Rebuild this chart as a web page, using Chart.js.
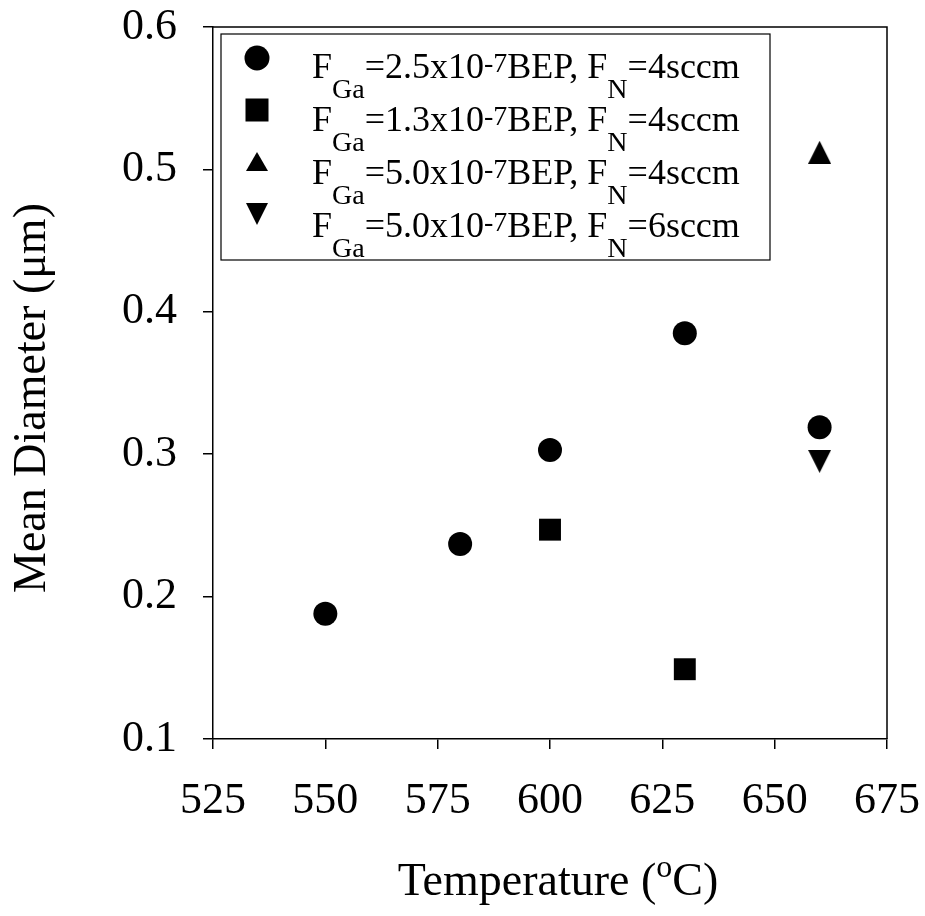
<!DOCTYPE html>
<html><head><meta charset="utf-8">
<script src="https://cdn.jsdelivr.net/npm/chart.js@4"></script>
<style>html,body{margin:0;padding:0;background:#fff}#wrap{width:925px;height:916px}</style>
</head><body><div id="wrap"><canvas id="c" width="925" height="916"></canvas></div>
<script>
// ---- data ----
const xTicks = [525, 550, 575, 600, 625, 650, 675];
const yTicks = [0.1, 0.2, 0.3, 0.4, 0.5, 0.6];
const circleX = [550, 580, 600, 630, 660];
const circleY = [0.188, 0.237, 0.303, 0.385, 0.319];
const squareX = [600, 630];
const squareY = [0.247, 0.149];
const upX = [660];
const upY = [0.512];
const downX = [660];
const downY = [0.295];
const legendGa = ['2.5', '1.3', '5.0', '5.0'];
const legendN = ['4', '4', '4', '6'];
const xTitleParts = ['Temperature (', 'o', 'C)'];
const yTitle = 'Mean Diameter (\u03BCm)';

const FONT = '"Liberation Serif", "Times New Roman", serif';

function triCanvas(up, w, h) {
  const c = document.createElement('canvas');
  c.width = w; c.height = h;
  const g = c.getContext('2d');
  g.fillStyle = '#000';
  g.beginPath();
  if (up) { g.moveTo(w / 2, 0); g.lineTo(w, h); g.lineTo(0, h); }
  else { g.moveTo(0, 0); g.lineTo(w, 0); g.lineTo(w / 2, h); }
  g.closePath(); g.fill();
  return c;
}
const upImg = triCanvas(true, 23, 23);
const downImg = triCanvas(false, 23, 23);

function pts(xs, ys) { return xs.map((x, i) => ({ x: x, y: ys[i] })); }
function lbl(i) { return 'FGa=' + legendGa[i] + 'x10-7BEP, FN=' + legendN[i] + 'sccm'; }

const datasets = [
  { label: lbl(0), data: pts(circleX, circleY), pointStyle: 'circle', pointRadius: 12, backgroundColor: '#000', borderWidth: 0 },
  { label: lbl(1), data: pts(squareX, squareY), pointStyle: 'rect', pointRadius: 15.5, backgroundColor: '#000', borderWidth: 0 },
  { label: lbl(2), data: pts(upX, upY), pointStyle: upImg, pointRadius: 12, backgroundColor: '#000', borderWidth: 0 },
  { label: lbl(3), data: pts(downX, downY), pointStyle: downImg, pointRadius: 12, backgroundColor: '#000', borderWidth: 0 }
];

const framePlugin = {
  id: 'frame',
  afterDraw(chart) {
    const { ctx, chartArea: a } = chart;
    ctx.save();
    ctx.strokeStyle = '#000';
    ctx.lineWidth = 1.5;
    ctx.beginPath();
    ctx.moveTo(a.left, a.top); ctx.lineTo(a.right, a.top); ctx.lineTo(a.right, a.bottom);
    ctx.stroke();

    // axis titles
    ctx.fillStyle = '#000';
    ctx.textBaseline = 'alphabetic';
    const big = '46px ' + FONT, small = '32px ' + FONT;
    ctx.font = big; const w1 = ctx.measureText(xTitleParts[0]).width;
    const w3 = ctx.measureText(xTitleParts[2]).width;
    ctx.font = small; const w2 = ctx.measureText(xTitleParts[1]).width;
    const tot = w1 + w2 + w3;
    let x = (a.left + a.right) / 2 + 8 - tot / 2;
    const by = a.bottom + 156;
    ctx.textAlign = 'left';
    ctx.font = big; ctx.fillText(xTitleParts[0], x, by); x += w1;
    ctx.font = small; ctx.fillText(xTitleParts[1], x, by - 18); x += w2;
    ctx.font = big; ctx.fillText(xTitleParts[2], x, by);

    ctx.save();
    ctx.translate(45, (a.top + a.bottom) / 2 + 15);
    ctx.rotate(-Math.PI / 2);
    ctx.font = big; ctx.textAlign = 'center';
    ctx.fillText(yTitle, 0, 0);
    ctx.restore();

    // legend
    const L = a.left + 8, T = a.top + 7, R = a.left + 557, B = a.top + 233;
    ctx.lineWidth = 1.2;
    ctx.strokeRect(L, T, R - L, B - T);
    const mx = a.left + 44;
    const main = '36px ' + FONT, sub = '28px ' + FONT;
    for (let i = 0; i < 4; i++) {
      const my = a.top + 31 + i * 52;
      ctx.beginPath();
      if (i === 0) { ctx.arc(mx, my, 12.5, 0, Math.PI * 2); ctx.fill(); }
      else if (i === 1) { ctx.fillRect(mx - 11.5, my - 11.5, 23, 23); }
      else if (i === 2) { ctx.moveTo(mx, my - 10); ctx.lineTo(mx + 11, my + 9); ctx.lineTo(mx - 11, my + 9); ctx.closePath(); ctx.fill(); }
      else { ctx.moveTo(mx - 11, my - 11); ctx.lineTo(mx + 11, my - 11); ctx.lineTo(mx, my + 11); ctx.closePath(); ctx.fill(); }
      const base = a.top + 51 + i * 53;
      let tx = a.left + 99;
      const segs = [
        ['F', main, 0], ['Ga', sub, 20], ['=' + legendGa[i] + 'x10', main, 0], ['-7', sub, -6],
        ['BEP, F', main, 0], ['N', sub, 20], ['=' + legendN[i] + 'sccm', main, 0]
      ];
      ctx.textAlign = 'left';
      for (const s of segs) {
        ctx.font = s[1];
        ctx.fillText(s[0], tx, base + s[2]);
        tx += ctx.measureText(s[0]).width;
      }
    }
    ctx.restore();
  }
};

new Chart(document.getElementById('c'), {
  type: 'scatter',
  data: { datasets: datasets },
  options: {
    responsive: false,
    animation: false,
    clip: false,
    layout: { padding: { top: 27, right: 38, left: 0, bottom: 0 } },
    plugins: { legend: { display: false }, tooltip: { enabled: false }, title: { display: false } },
    scales: {
      x: {
        type: 'linear', min: xTicks[0], max: xTicks[xTicks.length - 1],
        afterBuildTicks: s => { s.ticks = xTicks.map(v => ({ value: v })); },
        afterFit: s => { s.height = 177; s.paddingLeft = 0; s.paddingRight = 0; s.paddingTop = 0; s.paddingBottom = 0; },
        ticks: { font: { family: FONT, size: 44 }, color: '#000', padding: 26, maxRotation: 0, autoSkip: false, callback: v => String(v) },
        grid: { drawOnChartArea: false, drawTicks: true, tickLength: 10, color: '#000', lineWidth: 1.5 },
        border: { display: true, color: '#000', width: 1.5 }
      },
      y: {
        type: 'linear', min: yTicks[0], max: yTicks[yTicks.length - 1],
        afterBuildTicks: s => { s.ticks = yTicks.map(v => ({ value: v })); },
        afterFit: s => { s.width = 213; s.paddingLeft = 0; s.paddingRight = 0; s.paddingTop = 0; s.paddingBottom = 0; },
        ticks: { font: { family: FONT, size: 44 }, color: '#000', padding: 26, autoSkip: false, callback: v => Number(v).toFixed(1) },
        grid: { drawOnChartArea: false, drawTicks: true, tickLength: 10, color: '#000', lineWidth: 1.5 },
        border: { display: true, color: '#000', width: 1.5 }
      }
    }
  },
  plugins: [framePlugin]
});
</script>
</body></html>
